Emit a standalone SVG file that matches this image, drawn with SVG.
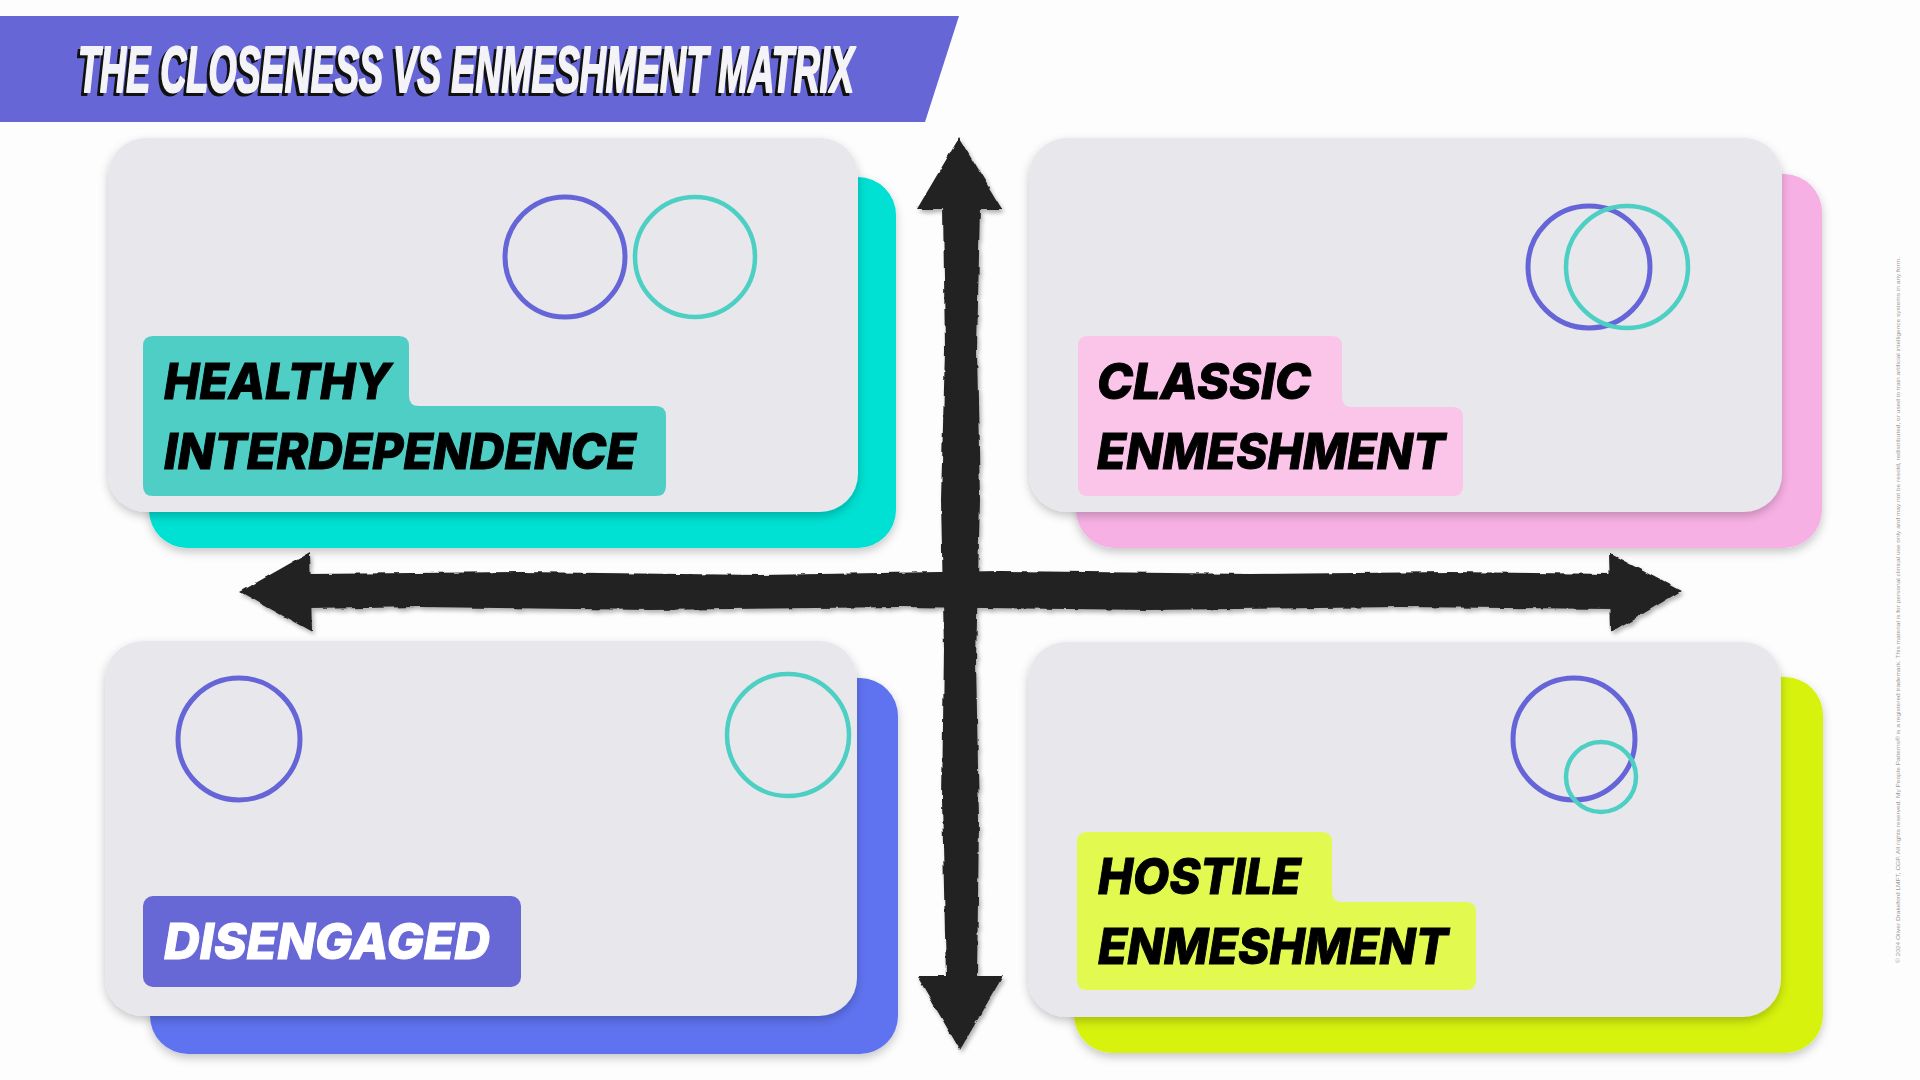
<svg xmlns="http://www.w3.org/2000/svg" width="1920" height="1080" viewBox="0 0 1920 1080">
<defs>
<style>
.card{fill:#E7E7EC;filter:url(#soft)}
.back{filter:url(#soft)}
.ring{fill:none;stroke-width:5}
.pur{stroke:#6565D8}
.tea{stroke:#4DCFC3;stroke-width:4.5}
.lbl{font-family:Inter,"Noto Sans","Liberation Sans",sans-serif;font-weight:800;font-style:italic;font-size:50px;fill:#000;stroke:#000;stroke-width:1}
.lblw{fill:#FFFFFF;stroke:#FFFFFF}
.title{font-family:"Liberation Sans Narrow","Liberation Sans",sans-serif;font-weight:bold;font-style:italic;font-size:64px;stroke-width:2.2;stroke-linejoin:round}
.copy{font-family:"Liberation Sans",sans-serif;font-size:6px;fill:#9a9a9a}
.axis{fill:#222222}
</style>
<filter id="soft" x="-10%" y="-10%" width="120%" height="130%">
<feDropShadow dx="0" dy="4" stdDeviation="5" flood-color="#000" flood-opacity="0.22"/>
</filter>
<filter id="torn" x="-5%" y="-5%" width="110%" height="110%">
<feTurbulence type="fractalNoise" baseFrequency="0.08" numOctaves="2" seed="3" result="n"/>
<feDisplacementMap in="SourceGraphic" in2="n" scale="4" xChannelSelector="R" yChannelSelector="G" result="d"/>
<feDropShadow dx="2" dy="3" stdDeviation="2" flood-color="#000" flood-opacity="0.3"/>
</filter>
</defs>
<rect width="1920" height="1080" fill="#FDFDFD"/>

<g id="title">
<polygon points="0,16 959,16 925,122 0,122" fill="#6666D6"/>
<text class="title" x="75" y="95" fill="#111" stroke="#111" textLength="776" lengthAdjust="spacingAndGlyphs">THE CLOSENESS VS ENMESHMENT MATRIX</text>
<text class="title" x="78" y="92" fill="#F3F3F8" stroke="#F3F3F8" textLength="776" lengthAdjust="spacingAndGlyphs">THE CLOSENESS VS ENMESHMENT MATRIX</text>
</g>

<g id="axes">
<g filter="url(#torn)" class="axis">
<path d="M310,574 L520,572 L760,575 L1000,571 L1250,574 L1450,572 L1612,574 L1612,609 L1400,607 L1150,610 L900,607 L650,610 L420,607 L310,609 Z"/>
<polygon points="240,592 310,552 312,632"/>
<polygon points="1681,591 1609,553 1611,633"/>
<path d="M943,206 L945,350 L941,500 L944,650 L942,800 L946,978 L977,978 L979,820 L976,660 L980,500 L977,350 L980,206 Z"/>
<polygon points="959,138 1002,209 917,209"/>
<polygon points="917,976 1003,976 960,1050"/>
</g>
</g>

<g id="node-healthy">
<rect class="back" x="149" y="177" width="747" height="371" rx="38" fill="#05E0D3"/>
<rect class="card" x="108" y="138" width="750" height="374" rx="38"/>
<circle class="ring pur" cx="565" cy="257" r="60"/>
<circle class="ring tea" cx="695" cy="257" r="60"/>
<path d="M153,336 H399 Q409,336 409,346 V396 Q409,406 419,406 H656 Q666,406 666,416 V486 Q666,496 656,496 H153 Q143,496 143,486 V346 Q143,336 153,336 Z" fill="#4FCEC5"/>
<text class="lbl" x="164" y="399" textLength="227" lengthAdjust="spacingAndGlyphs">HEALTHY</text>
<text class="lbl" x="164" y="469" textLength="472" lengthAdjust="spacingAndGlyphs">INTERDEPENDENCE</text>
</g>

<g id="node-classic">
<rect class="back" x="1076" y="174" width="746" height="374" rx="38" fill="#F7B0E4"/>
<rect class="card" x="1029" y="138" width="753" height="374" rx="38"/>
<circle class="ring pur" cx="1589" cy="267" r="61"/>
<circle class="ring tea" cx="1627" cy="267" r="61"/>
<path d="M1088,336 H1332 Q1342,336 1342,346 V397 Q1342,407 1352,407 H1453 Q1463,407 1463,417 V486 Q1463,496 1453,496 H1088 Q1078,496 1078,486 V346 Q1078,336 1088,336 Z" fill="#FBC5EA"/>
<text class="lbl" x="1097" y="399" textLength="214" lengthAdjust="spacingAndGlyphs">CLASSIC</text>
<text class="lbl" x="1097" y="469" textLength="348" lengthAdjust="spacingAndGlyphs">ENMESHMENT</text>
</g>

<g id="node-disengaged">
<rect class="back" x="150" y="678" width="748" height="376" rx="38" fill="#5F73F0"/>
<rect class="card" x="105" y="641" width="752" height="375" rx="38"/>
<circle class="ring pur" cx="239" cy="739" r="61"/>
<circle class="ring tea" cx="788" cy="735" r="61"/>
<rect x="143" y="896" width="378" height="91" rx="10" fill="#6767D6"/>
<text class="lbl lblw" x="164" y="959" textLength="326" lengthAdjust="spacingAndGlyphs">DISENGAGED</text>
</g>

<g id="node-hostile">
<rect class="back" x="1074" y="677" width="749" height="376" rx="38" fill="#D6F20F"/>
<rect class="card" x="1028" y="642" width="753" height="375" rx="38"/>
<circle class="ring pur" cx="1574" cy="739" r="61"/>
<circle class="ring tea" cx="1601" cy="777" r="35"/>
<path d="M1087,832 H1322 Q1332,832 1332,842 V892 Q1332,902 1342,902 H1466 Q1476,902 1476,912 V980 Q1476,990 1466,990 H1087 Q1077,990 1077,980 V842 Q1077,832 1087,832 Z" fill="#E2FA50"/>
<text class="lbl" x="1098" y="894" textLength="203" lengthAdjust="spacingAndGlyphs">HOSTILE</text>
<text class="lbl" x="1098" y="964" textLength="350" lengthAdjust="spacingAndGlyphs">ENMESHMENT</text>
</g>

<text class="copy" transform="translate(1900,963) rotate(-90)" x="0" y="0" textLength="706" lengthAdjust="spacingAndGlyphs">© 2024 Oliver Drakeford LMFT, CGP. All rights reserved. My People Patterns® is a registered trademark. This material is for personal clinical use only and may not be resold, redistributed, or used to train artificial intelligence systems in any form.</text>
</svg>
